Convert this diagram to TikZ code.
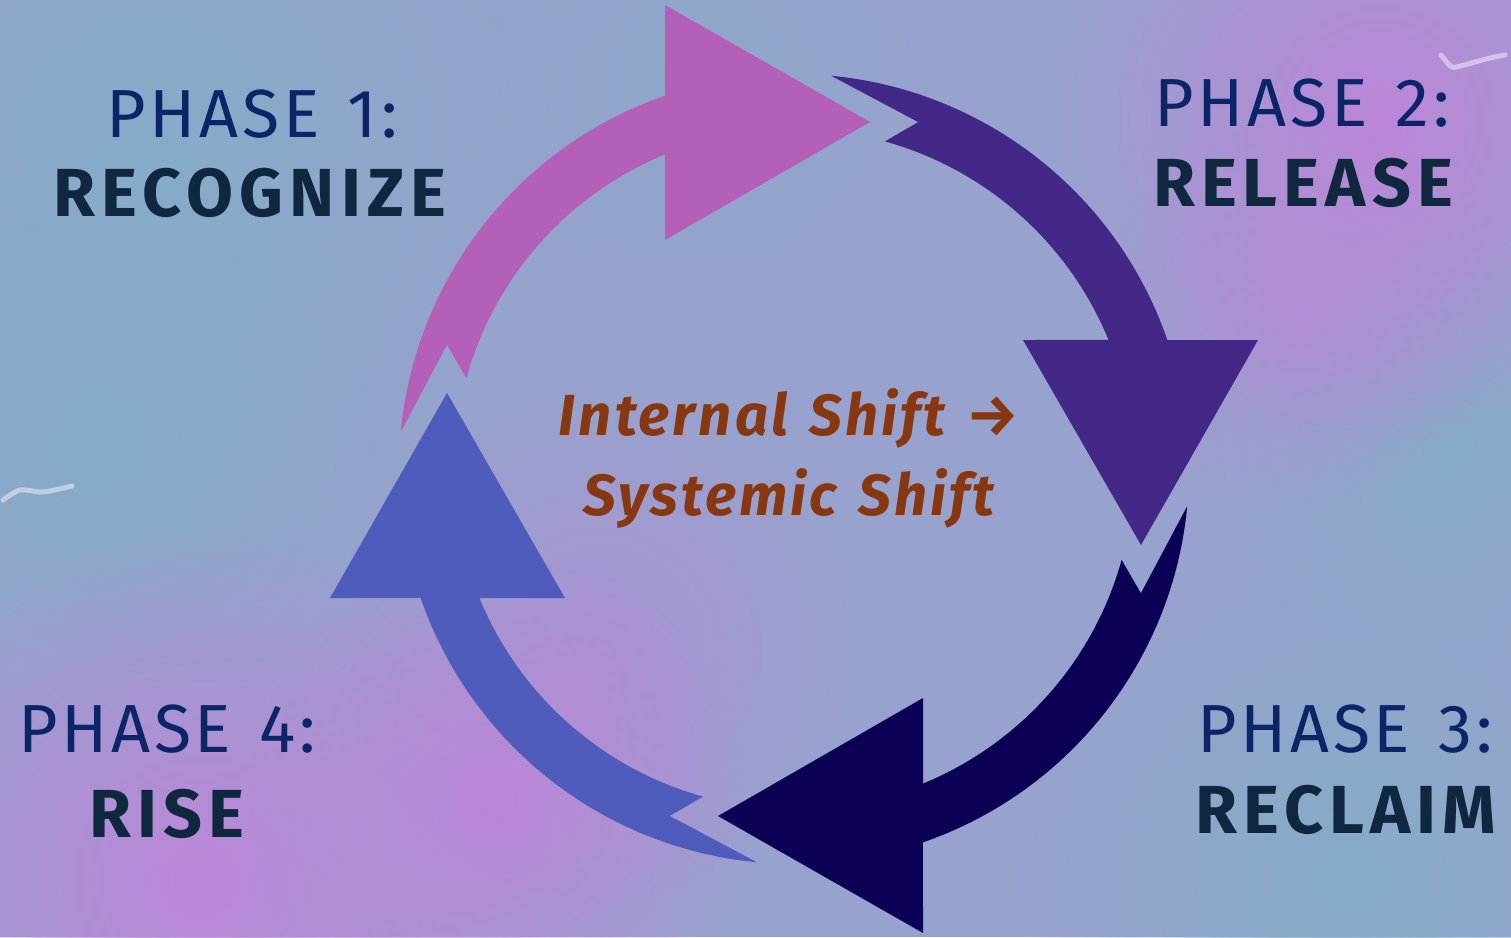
\documentclass[tikz,border=0pt]{standalone}
\usepackage{fontspec}
\setmainfont{Fira Sans}
\newfontfamily\phfont[LetterSpace=5.5]{Fira Sans}
\newfontfamily\nmfont[LetterSpace=9]{Fira Sans}
\newfontfamily\shfont[LetterSpace=5.5, WordSpace=1.3]{Fira Sans}
\usetikzlibrary{fadings}
\definecolor{bgbase}{RGB}{152,162,206}
\definecolor{bgblue}{RGB}{134,172,200}
\definecolor{bgpink}{RGB}{188,134,216}
\definecolor{pinkarrow}{RGB}{180,96,184}
\definecolor{purplearrow}{RGB}{67,40,136}
\definecolor{navyarrow}{RGB}{12,2,85}
\definecolor{bluearrow}{RGB}{80,92,188}
\definecolor{shiftbrown}{RGB}{136,56,16}
\definecolor{phcol}{RGB}{12,36,104}
\definecolor{nmcol}{RGB}{15,40,64}
\tikzfading[name=softfade, inner color=transparent!0, outer color=transparent!100]
\tikzset{
  blob/.style={path fading=softfade},
  phaselbl/.style={anchor=base, text=phcol, font=\phfont\fontsize{68}{68}\selectfont, inner sep=0pt},
  namelbl/.style={anchor=base, text=nmcol, font=\nmfont\bfseries\fontsize{68}{68}\selectfont, inner sep=0pt},
  shiftlbl/.style={anchor=base, text=shiftbrown, font=\shfont\bfseries\itshape\fontsize{58}{58}\selectfont, inner sep=0pt}
}
\newcommand\cycarrow[2]{%
  \begin{scope}[rotate=#2]
  \fill[#1] (174.6:395) arc[start angle=174.6, end angle=109.06, radius=395]
    -- (-129,464) -- (76,347) -- (-129,229) -- (112.3:340)
    arc[start angle=112.3, end angle=164.5, radius=340]
    -- (160.3:368.5) -- cycle;
  \end{scope}}
\begin{document}
\begin{tikzpicture}[x=1pt,y=1pt]
\useasboundingbox (-794,-468) rectangle (717,469);
\fill[bgbase] (-794,-468) rectangle (717,469);
\begin{scope}
\clip (-794,-468) rectangle (717,469);
\fill[bgblue, blob] (-644,319) circle (450);
\fill[bgblue, blob] (-694,19) circle (300);
\fill[bgblue, blob] (556,-411) circle (350);
\fill[bgblue, blob] (656,19) circle (250);
\fill[bgblue, blob, opacity=.6] (-94,389) circle (250);
\fill[bgpink, blob] (586,349) circle (320);
\fill[bgpink, blob] (-594,-411) circle (350);
\fill[bgpink, blob] (-294,-331) circle (250);
\fill[bgpink, blob, opacity=.6] (506,149) circle (200);
\fill[bgpink, blob, opacity=.5] (-194,-181) circle (250);
\draw[white, opacity=.45, line width=5, line cap=round] plot[smooth] coordinates {(647,414) (658,402) (670,404) (681,407) (696,411) (711,414)};
\draw[white, opacity=.45, line width=5, line cap=round] plot[smooth] coordinates {(-791,-31) (-774,-21) (-754,-23) (-739,-21) (-722,-17)};
\end{scope}
\cycarrow{pinkarrow}{0}
\cycarrow{purplearrow}{-90}
\cycarrow{navyarrow}{-180}
\cycarrow{bluearrow}{-270}
\node[shiftlbl] (s1) at (-5,34) {Internal Shift →};
\node[shiftlbl] (s2) at (-5,-46) {Systemic Shift};
\node[phaselbl] (p1) at (-542,331) {PHASE 1:};
\node[namelbl] (n1) at (-544,252) {RECOGNIZE};
\node[phaselbl] (p2) at (508,342) {PHASE 2:};
\node[namelbl] (n2) at (509,262) {RELEASE};
\node[phaselbl] (p3) at (551,-283) {PHASE 3:};
\node[namelbl] (n3) at (552,-364) {RECLAIM};
\node[phaselbl] (p4) at (-627,-283) {PHASE 4:};
\node[namelbl] (n4) at (-627,-368) {RISE};
\end{tikzpicture}
\end{document}
